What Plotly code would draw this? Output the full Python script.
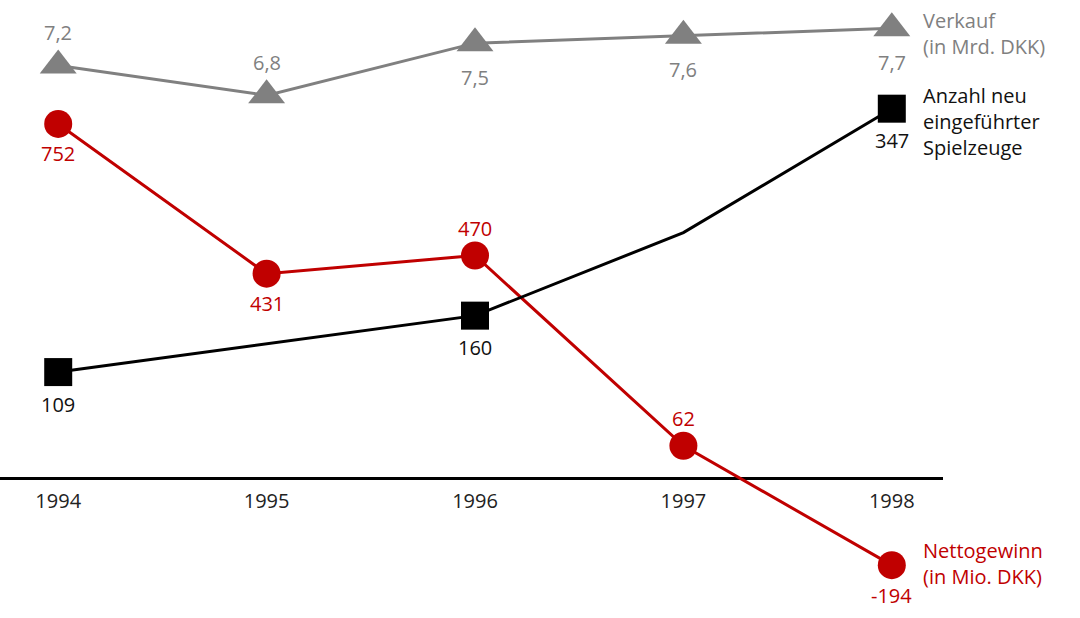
import plotly.graph_objects as go

# ---- data ----
years = [1994, 1995, 1996, 1997, 1998]
year_labels = ["1994", "1995", "1996", "1997", "1998"]

verkauf = [7.2, 6.8, 7.5, 7.6, 7.7]                 # Mrd. DKK
verkauf_labels = ["7,2", "6,8", "7,5", "7,6", "7,7"]
verkauf_label_side = ["above", "above", "below", "below", "below"]

netto = [752, 431, 470, 62, -194]                    # Mio. DKK
netto_labels = ["752", "431", "470", "62", "-194"]
netto_label_side = ["below", "below", "above", "above", "below"]

spielzeuge = [109, None, 160, 235, 347]              # count
spielzeuge_labels = ["109", "", "160", "", "347"]
spielzeuge_label_side = ["below", None, "below", None, "below"]
spielzeuge_marked = [True, False, True, False, True]

GRAY = "#808080"
RED = "#c00000"
BLACK = "#000000"
TEXT_DARK = "#111111"
FONT = "Open Sans"

fig = go.Figure()

fig.add_trace(go.Scatter(
    x=years, y=spielzeuge, yaxis="y3", mode="lines+markers",
    connectgaps=True,
    line=dict(color=BLACK, width=3),
    marker=dict(symbol="square", color=BLACK, opacity=1,
                line=dict(width=0, color=BLACK),
                size=[28 if m else 0 for m in spielzeuge_marked]),
    cliponaxis=False, hoverinfo="skip"))

fig.add_trace(go.Scatter(
    x=years, y=netto, yaxis="y", mode="lines+markers",
    line=dict(color=RED, width=3),
    marker=dict(symbol="circle", color=RED, size=28, opacity=1,
                line=dict(width=0, color=RED)),
    cliponaxis=False, hoverinfo="skip"))

fig.add_trace(go.Scatter(
    x=years, y=verkauf, yaxis="y2", mode="lines+markers",
    line=dict(color=GRAY, width=3),
    marker=dict(symbol="triangle-up", color=GRAY, size=32, opacity=1,
                line=dict(width=0, color=GRAY)),
    cliponaxis=False, hoverinfo="skip"))

# value labels, anchored to the data points
def add_labels(values, labels, sides, yref, color, up, down):
    for x, v, t, s in zip(years, values, labels, sides):
        if v is None or not t:
            continue
        fig.add_annotation(x=x, y=v, xref="x", yref=yref, text=t,
                           showarrow=False, xanchor="center", yanchor="middle",
                           yshift=up if s == "above" else down,
                           font=dict(family=FONT, size=20, color=color))

add_labels(verkauf, verkauf_labels, verkauf_label_side, "y2", GRAY, 33, -34)
add_labels(netto, netto_labels, netto_label_side, "y", RED, 27, -30)
add_labels(spielzeuge, spielzeuge_labels, spielzeuge_label_side, "y3", TEXT_DARK, 30, -32)

# series names at the right
fig.add_annotation(x=921 / 1080, y=1 - 33.7 / 618, xref="paper", yref="paper",
                   xanchor="left", yanchor="middle", align="left",
                   text="Verkauf<br>(in Mrd. DKK)", showarrow=False,
                   font=dict(family=FONT, size=20, color=GRAY))
fig.add_annotation(x=921 / 1080, y=1 - 121.7 / 618, xref="paper", yref="paper",
                   xanchor="left", yanchor="middle", align="left",
                   text="Anzahl neu<br>eingeführter<br>Spielzeuge", showarrow=False,
                   font=dict(family=FONT, size=20, color=TEXT_DARK))
fig.add_annotation(x=921 / 1080, y=1 - 563.7 / 618, xref="paper", yref="paper",
                   xanchor="left", yanchor="middle", align="left",
                   text="Nettogewinn<br>(in Mio. DKK)", showarrow=False,
                   font=dict(family=FONT, size=20, color=RED))

fig.update_layout(
    width=1080, height=618,
    margin=dict(l=0, r=0, t=0, b=0),
    paper_bgcolor="white", plot_bgcolor="white",
    showlegend=False,
    font=dict(family=FONT, size=20),
    xaxis=dict(domain=[0, 943 / 1080], range=[1993.7207, 1998.2457],
               anchor="free", position=1 - 478 / 618,
               showline=True, linewidth=3, linecolor=BLACK, layer="below traces",
               showgrid=False, zeroline=False,
               tickmode="array", tickvals=years, ticktext=year_labels,
               ticks="outside", ticklen=4, tickcolor="rgba(0,0,0,0)",
               tickfont=dict(family=FONT, size=20, color="#222222")),
    yaxis=dict(range=[-307.3, 1017.8], visible=False, showgrid=False, zeroline=False),
    yaxis2=dict(range=[-0.206, 8.0785], overlaying="y", visible=False,
                showgrid=False, zeroline=False),
    yaxis3=dict(range=[-113.2, 445.2], overlaying="y", visible=False,
                showgrid=False, zeroline=False),
)

fig.write_html("out.html")
